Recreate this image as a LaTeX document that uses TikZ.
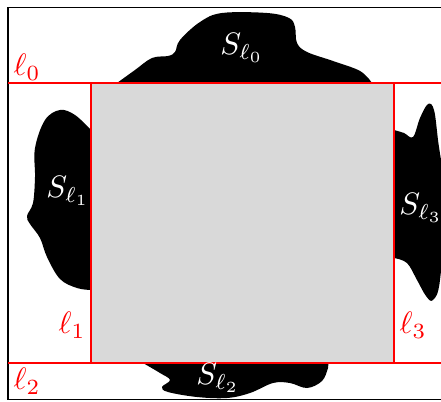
\documentclass[tikz,border=0pt]{standalone}
\begin{document}
\begin{tikzpicture}[x=1pt,y=-1pt,
  redline/.style={draw=red,line width=1.6pt},
  blob/.style={fill=black},
  slab/.style={text=white,inner sep=0pt},
  llab/.style={text=red,inner sep=0pt}]
\useasboundingbox (0,0) rectangle (441,401);
\clip (0,0) rectangle (441,401);
% gray square
\fill[gray!30] (91,83) rectangle (394,363);
% blobs
\fill[blob] (117,83) -- plot[smooth,tension=0.6] coordinates {(117,83) (135,70) (152,58) (168,56) (175,52) (180,40) (200,22) (222,13) (267,13) (289,18) (295,27) (297,43) (307,52) (333,61) (360,71) (372,83)} -- cycle;
\fill[blob] (91,130) -- plot[smooth,tension=0.6] coordinates {(91,130) (75,115) (60,110) (45,120) (35,148) (35,177) (33,203) (27,216) (30,224) (40,238) (47,257) (60,279) (77,288) (91,290)} -- cycle;
\fill[blob] (394,130) -- plot[smooth,tension=0.6] coordinates {(394,130) (404,133) (413,137) (420,118) (428,104) (434,110) (438,140) (445,200) (440,280) (433,300) (426,296) (417,280) (407,263) (394,258)} -- cycle;
\fill[blob] (143,363) -- plot[smooth,tension=0.6] coordinates {(143,363) (160,373) (170,380) (162,387) (168,392) (197,397) (227,398) (250,393) (273,383) (290,383) (307,388) (322,381) (328,368) (328,363)} -- cycle;
% frame
\draw[black,line width=1.2pt] (8,7.5) -- (460,7.5);
\draw[black,line width=1.2pt] (8,7.5) -- (8,399.5) -- (460,399.5);
% red lines
\node[coordinate] (a0) at (8,83) {};
\node[coordinate] (b0) at (445,83) {};
\node[coordinate] (a2) at (8,363) {};
\node[coordinate] (b2) at (445,363) {};
\node[coordinate] (a1) at (91,83) {};
\node[coordinate] (c1) at (91,363) {};
\node[coordinate] (a3) at (394,83) {};
\node[coordinate] (c3) at (394,363) {};
\draw[redline] (a0) -- (b0);
\draw[redline] (a2) -- (b2);
\draw[redline] (a1) -- (c1);
\draw[redline] (a3) -- (c3);
% labels
\node[slab] (s0) at (242,48) {\scalebox{3.1}{$S_{\ell_0}$}};
\node[slab] (s1) at (68,191) {\scalebox{3.1}{$S_{\ell_1}$}};
\node[slab] (s3) at (421,208) {\scalebox{3.1}{$S_{\ell_3}$}};
\node[slab] (s2) at (218,378) {\scalebox{3.1}{$S_{\ell_2}$}};
\node[llab] (l0) at (27,67) {\scalebox{3.1}{$\ell_0$}};
\node[llab] (l1) at (72,325) {\scalebox{3.1}{$\ell_1$}};
\node[llab] (l2) at (27,381) {\scalebox{3.1}{$\ell_2$}};
\node[llab] (l3) at (413,325) {\scalebox{3.1}{$\ell_3$}};
\end{tikzpicture}
\end{document}
